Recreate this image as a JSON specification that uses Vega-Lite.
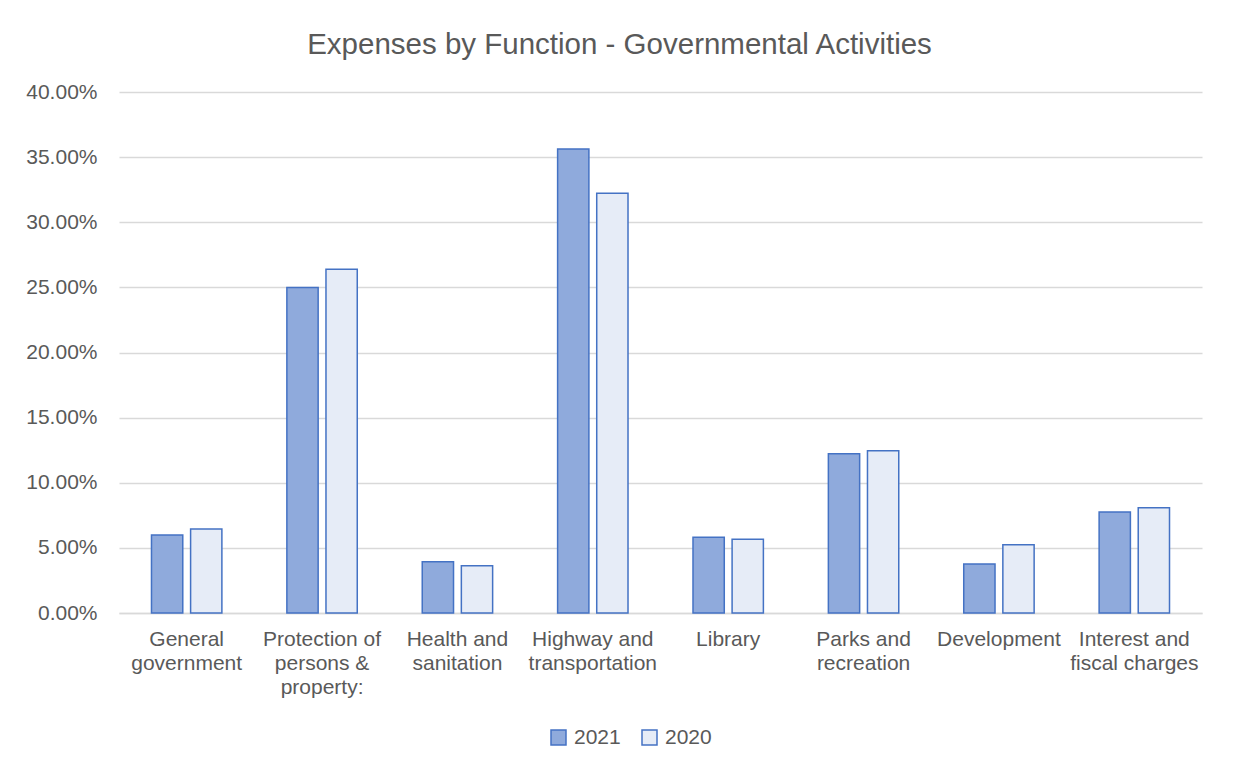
{
  "$schema": "https://vega.github.io/schema/vega-lite/v6.json",
  "width": 1083,
  "height": 521,
  "autosize": {"type": "none"},
  "padding": {"left": 119, "top": 92, "right": 31, "bottom": 160},
  "background": "white",
  "title": {
    "text": "Expenses by Function - Governmental Activities",
    "font": "Liberation Sans",
    "fontSize": 29.5,
    "fontWeight": "normal",
    "color": "#595959",
    "anchor": "middle",
    "frame": "group",
    "dx": -41,
    "baseline": "alphabetic",
    "offset": -2
  },
  "data": {
    "values": [
      {"function": "General government", "year": "2021", "share": 0.0599},
      {"function": "General government", "year": "2020", "share": 0.0645},
      {"function": "Protection of persons & property:", "year": "2021", "share": 0.2500},
      {"function": "Protection of persons & property:", "year": "2020", "share": 0.2640},
      {"function": "Health and sanitation", "year": "2021", "share": 0.0394},
      {"function": "Health and sanitation", "year": "2020", "share": 0.0363},
      {"function": "Highway and transportation", "year": "2021", "share": 0.3563},
      {"function": "Highway and transportation", "year": "2020", "share": 0.3223},
      {"function": "Library", "year": "2021", "share": 0.0581},
      {"function": "Library", "year": "2020", "share": 0.0566},
      {"function": "Parks and recreation", "year": "2021", "share": 0.1223},
      {"function": "Parks and recreation", "year": "2020", "share": 0.1246},
      {"function": "Development", "year": "2021", "share": 0.0376},
      {"function": "Development", "year": "2020", "share": 0.0524},
      {"function": "Interest and fiscal charges", "year": "2021", "share": 0.0775},
      {"function": "Interest and fiscal charges", "year": "2020", "share": 0.0808}
    ]
  },
  "mark": {"type": "bar", "stroke": "#4472C4", "strokeWidth": 1.5},
  "encoding": {
    "x": {
      "field": "function",
      "type": "nominal",
      "sort": ["General government", "Protection of persons & property:", "Health and sanitation", "Highway and transportation", "Library", "Parks and recreation", "Development", "Interest and fiscal charges"],
      "scale": {"paddingInner": 0.48, "paddingOuter": 0.24},
      "axis": {
        "title": null,
        "labelAngle": 0,
        "labelFont": "Liberation Sans",
        "labelFontSize": 21,
        "labelColor": "#595959",
        "labelLineHeight": 24,
        "labelPadding": 15,
        "labelLimit": 0,
        "ticks": false,
        "domain": true,
        "domainColor": "#D9D9D9",
        "domainWidth": 1.5,
        "grid": false,
        "labelExpr": "datum.value == 'General government' ? ['General','government'] : datum.value == 'Protection of persons & property:' ? ['Protection of','persons &','property:'] : datum.value == 'Health and sanitation' ? ['Health and','sanitation'] : datum.value == 'Highway and transportation' ? ['Highway and','transportation'] : datum.value == 'Parks and recreation' ? ['Parks and','recreation'] : datum.value == 'Interest and fiscal charges' ? ['Interest and','fiscal charges'] : datum.label"
      }
    },
    "xOffset": {
      "field": "year",
      "type": "nominal",
      "sort": ["2021", "2020"],
      "scale": {"paddingInner": 0.2}
    },
    "y": {
      "field": "share",
      "type": "quantitative",
      "scale": {"domain": [0, 0.4]},
      "axis": {
        "title": null,
        "values": [0, 0.05, 0.1, 0.15, 0.2, 0.25, 0.3, 0.35, 0.4],
        "format": ".2%",
        "labelFont": "Liberation Sans",
        "labelFontSize": 21,
        "labelColor": "#595959",
        "labelPadding": 22,
        "ticks": false,
        "domain": false,
        "grid": true,
        "gridColor": "#D9D9D9",
        "gridWidth": 1.5
      }
    },
    "fill": {
      "field": "year",
      "type": "nominal",
      "scale": {"domain": ["2021", "2020"], "range": ["#8FAADC", "#E6ECF7"]},
      "legend": {
        "title": null,
        "orient": "none",
        "direction": "horizontal",
        "legendX": 429,
        "legendY": 635,
        "symbolType": "square",
        "symbolSize": 225,
        "symbolStrokeColor": "#4472C4",
        "symbolStrokeWidth": 1.5,
        "labelFont": "Liberation Sans",
        "labelFontSize": 21,
        "labelColor": "#595959",
        "labelOffset": 5,
        "columnPadding": 18
      }
    }
  },
  "config": {"view": {"stroke": null}}
}
